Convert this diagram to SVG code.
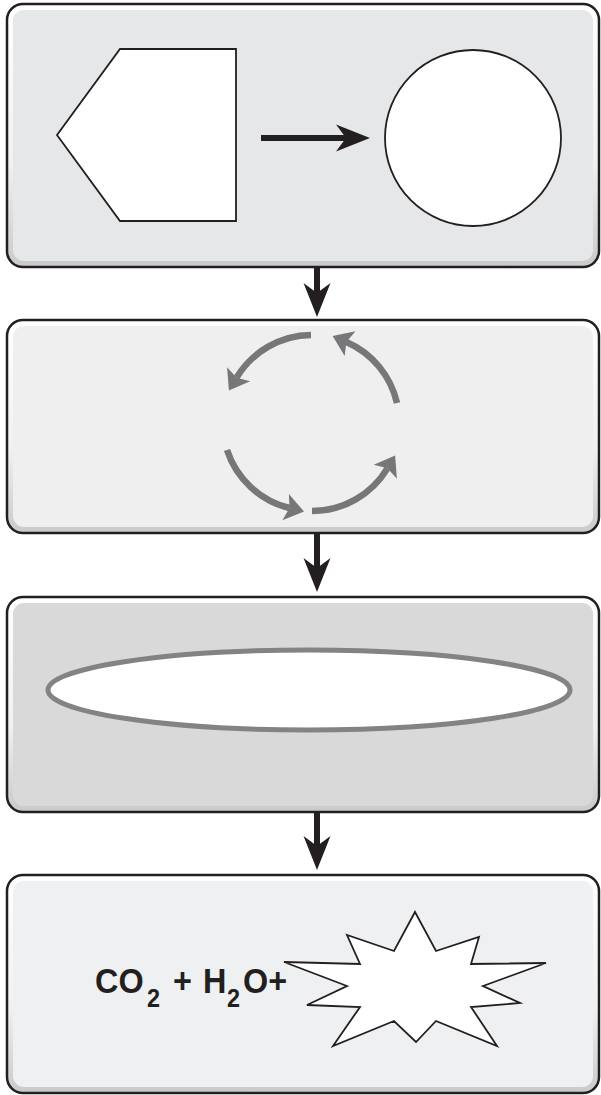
<svg xmlns="http://www.w3.org/2000/svg" width="601" height="1095" viewBox="0 0 601 1095">
  <style>
    .frame { stroke: #231f20; stroke-width: 2.5; fill: url(#bevel); }
    .shape { stroke: #231f20; stroke-width: 1.8; fill: #ffffff; }
    .cycle { fill: none; stroke: #77777a; stroke-width: 6.5; marker-end: url(#grayHead); }
    .conn { stroke: #231f20; stroke-width: 6; fill: none; marker-end: url(#blackHead); }
    .formula { font-family: "Liberation Sans", Arial, Helvetica, sans-serif; font-weight: bold; fill: #231f20; }
  </style>
  <defs>
    <linearGradient id="bevel" x1="0" y1="0" x2="0" y2="1">
      <stop offset="0" stop-color="#ffffff"/>
      <stop offset="0.6" stop-color="#f1f1f2"/>
      <stop offset="1" stop-color="#c9cacc"/>
    </linearGradient>
    <marker id="blackHead" markerUnits="userSpaceOnUse" viewBox="0 0 34 28" refX="10" refY="14" markerWidth="34" markerHeight="28" orient="auto" overflow="visible">
      <path d="M0,0.5 L34,14 L0,27.5 L10,14 Z" fill="#231f20"/>
    </marker>
    <marker id="grayHead" markerUnits="userSpaceOnUse" viewBox="0 0 20 28" refX="4" refY="14" markerWidth="20" markerHeight="28" orient="auto" overflow="visible">
      <path d="M0,0.5 L19,14 L0,27.5 L4,14 Z" fill="#77777a"/>
    </marker>
  </defs>

  <g id="panel-1">
    <rect class="frame" x="7" y="4" width="592" height="263" rx="16"/>
    <rect x="13" y="10" width="580" height="251" rx="11" fill="#e6e7e8"/>
    <polygon id="pentagon" class="shape" points="120,49 236,49 236,221 120,221 57,135"/>
    <circle id="circle" class="shape" cx="473" cy="138" r="88"/>
    <line id="arrow-pentagon-circle" class="conn" x1="261" y1="138" x2="346" y2="138"/>
  </g>

  <g id="panel-2">
    <rect class="frame" x="7" y="320" width="592" height="213" rx="16"/>
    <rect x="13" y="326" width="580" height="201" rx="11" fill="#efefef"/>
    <g id="cycle">
      <path class="cycle" d="M311,335 A88,88 0 0 0 236.6,377.7"/>
      <path class="cycle" d="M397,403 A88,88 0 0 0 346.4,342"/>
      <path class="cycle" d="M227,450 A88,88 0 0 0 289.5,508"/>
      <path class="cycle" d="M312,511 A88,88 0 0 0 387.4,468.3"/>
    </g>
  </g>

  <g id="panel-3">
    <rect class="frame" x="7" y="597" width="592" height="215" rx="16"/>
    <rect x="13" y="603" width="580" height="203" rx="11" fill="#d9d9da"/>
    <ellipse id="ellipse" cx="309" cy="690" rx="261" ry="40" fill="#ffffff" stroke="#838386" stroke-width="5"/>
  </g>

  <g id="panel-4">
    <rect class="frame" x="7" y="875" width="592" height="218" rx="16"/>
    <rect x="13" y="881" width="580" height="206" rx="11" fill="#eff0f1"/>
    <text class="formula" transform="translate(95,0) scale(0.9,1)" x="0" y="993" font-size="36">CO<tspan x="57.8" y="1007" font-size="26">2</tspan><tspan x="86.7" y="993">+</tspan><tspan x="120" y="993">H</tspan><tspan x="146.7" y="1007" font-size="26">2</tspan><tspan x="164.4" y="993">O+</tspan></text>
    <polygon id="starburst" class="shape" points="415,912 436,951 479,937 471,964 546,963 483,986 520,1003 471,1007 497,1046 436,1021 416,1042 394,1021 333,1046 360,1007 307,1005 347,986 284,962 360,964 347,935 394,951"/>
  </g>

  <g id="connectors">
    <line class="conn" x1="317" y1="268" x2="317" y2="293"/>
    <line class="conn" x1="317" y1="534" x2="317" y2="568"/>
    <line class="conn" x1="317" y1="813" x2="317" y2="846"/>
  </g>
</svg>
